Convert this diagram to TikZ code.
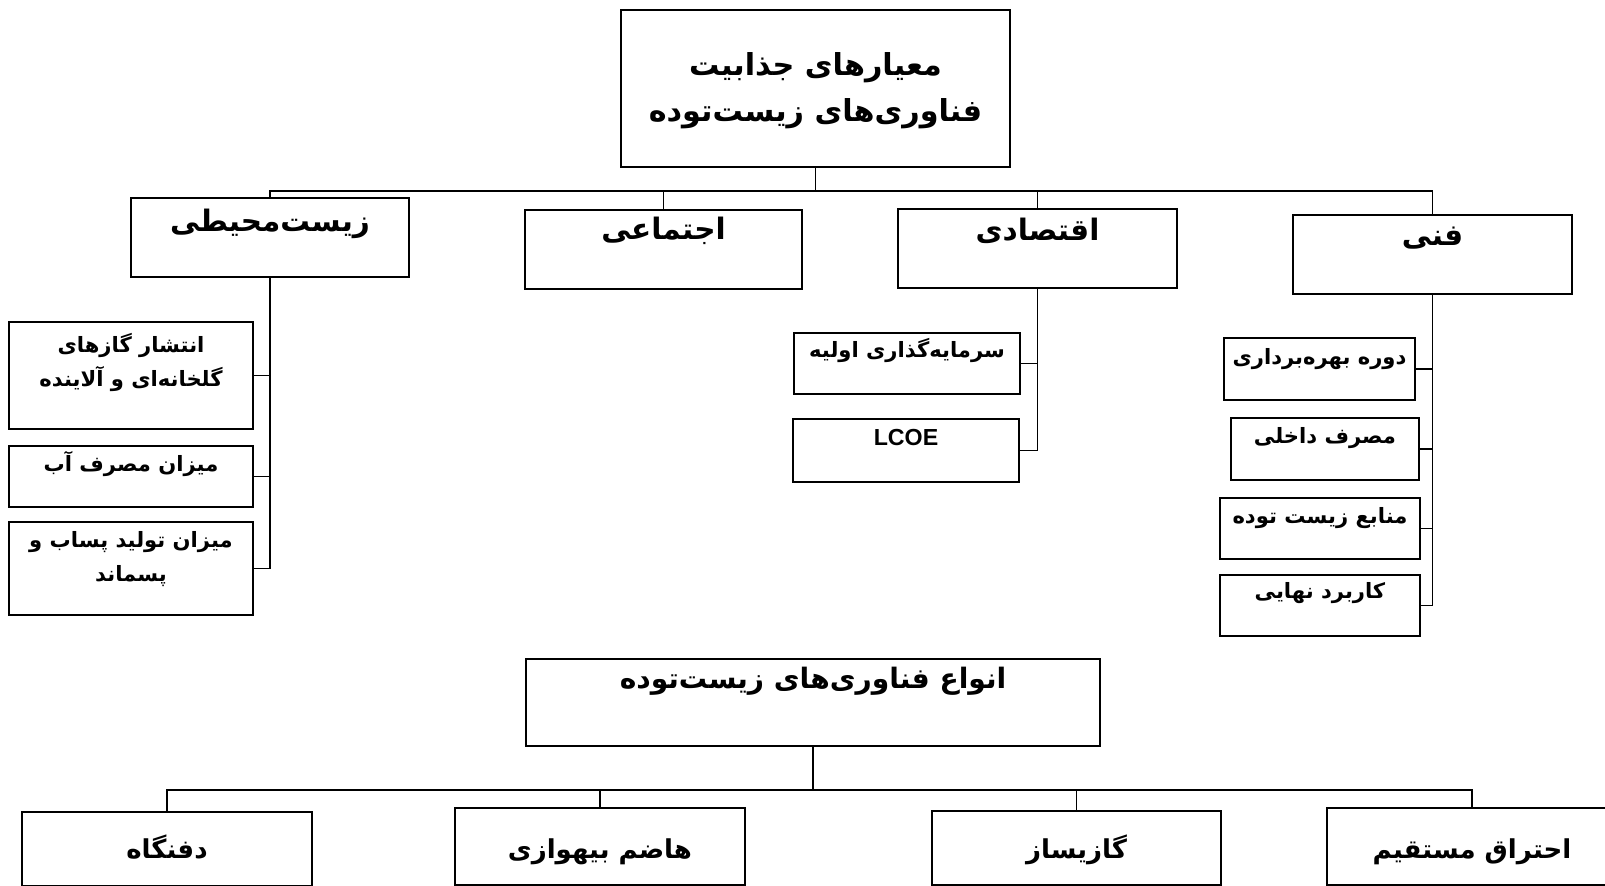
\documentclass[tikz,border=0pt]{standalone}
\usepackage{fontspec}
\setmainfont{Liberation Sans}
\newfontfamily\farsi[Script=Arabic]{DejaVu Sans}
\TeXXeTstate=1
\newdimen\px \px=0.01cm
\newcommand{\fa}[1]{\beginR #1\endR}
\newcommand{\boxtext}[4]{\parbox[c][#2\px][t]{#1\px}{\centering\rule{0pt}{#3\px}#4\par}}
\newcommand{\titlefont}{\farsi\bfseries\fontsize{8.6}{13}\selectfont}
\newcommand{\critfont}{\farsi\bfseries\fontsize{8.4}{12}\selectfont}
\newcommand{\subfont}{\farsi\bfseries\fontsize{6}{9.4}\selectfont}
\newcommand{\typefont}{\farsi\bfseries\fontsize{7.4}{11}\selectfont}

\begin{document}
\begin{tikzpicture}[x=0.01cm, y=-0.01cm,
  crit/.style={draw, line width=0.6pt, inner sep=0pt, font=\critfont},
  sub/.style={draw, line width=0.6pt, inner sep=0pt, font=\subfont},
  tech/.style={draw, line width=0.6pt, inner sep=0pt, font=\typefont},
  link/.style={line width=0.5pt}
]
  \path[use as bounding box, fill=white] (0,0) rectangle (1605,886);

  % Criteria
  \node[crit, font=\titlefont] (goal) at (815.5,88.5)
    {\boxtext{389}{157}{66}{\fa{معیارهای جذابیت}\\\fa{فناوری‌های زیست‌توده}}};
  \node[crit] (zist)     at (270,237.5)   {\boxtext{278}{79}{34}{\fa{زیست‌محیطی}}};
  \node[crit] (ejtemai)  at (663.5,249.5) {\boxtext{277}{79}{30}{\fa{اجتماعی}}};
  \node[crit] (eqtesadi) at (1037.5,248.5){\boxtext{279}{79}{32}{\fa{اقتصادی}}};
  \node[crit] (fanni)    at (1432.5,254.5){\boxtext{279}{79}{31}{\fa{فنی}}};

  \draw[link] (goal.south) -- ++(0,23) coordinate (bus);
  \draw[link] (zist.north) |- (bus) -| (fanni.north);
  \draw[link] (ejtemai.north) -- (ejtemai.north |- bus);
  \draw[link] (eqtesadi.north) -- (eqtesadi.north |- bus);

  % Environmental sub-criteria
  \node[sub] (gaz)   at (131,375.5) {\boxtext{244}{107}{31}{\fa{انتشار گازهای}\\\fa{گلخانه‌ای و آلاینده}}};
  \node[sub] (ab)    at (131,476.5) {\boxtext{244}{61}{26}{\fa{میزان مصرف آب}}};
  \node[sub] (pasab) at (131,568.5) {\boxtext{244}{93}{26}{\fa{میزان تولید پساب و}\\\fa{پسماند}}};
  \draw[link] (zist.south) |- (pasab.east);
  \draw[link] (gaz.east) -- (gaz.east -| zist.south);
  \draw[link] (ab.east) -- (ab.east -| zist.south);

  % Economic sub-criteria
  \node[sub] (sarmaye) at (907,363.5) {\boxtext{226}{61}{25}{\fa{سرمایه‌گذاری اولیه}}};
  \node[sub] (lcoe)    at (906,450.5)
    {\boxtext{226}{63}{26.5}{\normalfont\bfseries\fontsize{6.6}{8}\selectfont LCOE}};
  \draw[link] (eqtesadi.south) |- (lcoe.east);
  \draw[link] (sarmaye.east) -- (sarmaye.east -| eqtesadi.south);

  % Technical sub-criteria
  \node[sub] (doure)   at (1319.5,369) {\boxtext{191}{62}{27}{\fa{دوره بهره‌برداری}}};
  \node[sub] (masraf)  at (1325,449)   {\boxtext{188}{62}{26}{\fa{مصرف داخلی}}};
  \node[sub] (manabe)  at (1320,528.5) {\boxtext{200}{61}{26}{\fa{منابع زیست توده}}};
  \node[sub] (karbord) at (1320,605.5) {\boxtext{200}{61}{24}{\fa{کاربرد نهایی}}};
  \draw[link] (fanni.south) |- (karbord.east);
  \draw[link] (doure.east) -- (doure.east -| fanni.south);
  \draw[link] (masraf.east) -- (masraf.east -| fanni.south);
  \draw[link] (manabe.east) -- (manabe.east -| fanni.south);

  % Technology types
  \node[tech, font=\farsi\bfseries\fontsize{8}{11}\selectfont] (anva) at (813,702.5)
    {\boxtext{574}{87}{30}{\fa{انواع فناوری‌های زیست‌توده}}};
  \node[tech] (daf)      at (167,849)    {\boxtext{290}{74}{47}{\fa{دفنگاه}}};
  \node[tech] (hazem)    at (600,846.5)  {\boxtext{290}{77}{51}{\fa{هاضم بیهوازی}}};
  \node[tech] (gazisaz)  at (1076.5,848) {\boxtext{289}{74}{48}{\fa{گازیساز}}};
  \node[tech] (ehteragh) at (1472,846.5) {\boxtext{290}{77}{51}{\fa{احتراق مستقیم}}};

  \draw[link] (anva.south) -- ++(0,43) coordinate (bus2);
  \draw[link] (daf.north) |- (bus2) -| (ehteragh.north);
  \draw[link] (hazem.north) -- (hazem.north |- bus2);
  \draw[link] (gazisaz.north) -- (gazisaz.north |- bus2);
\end{tikzpicture}
\end{document}
